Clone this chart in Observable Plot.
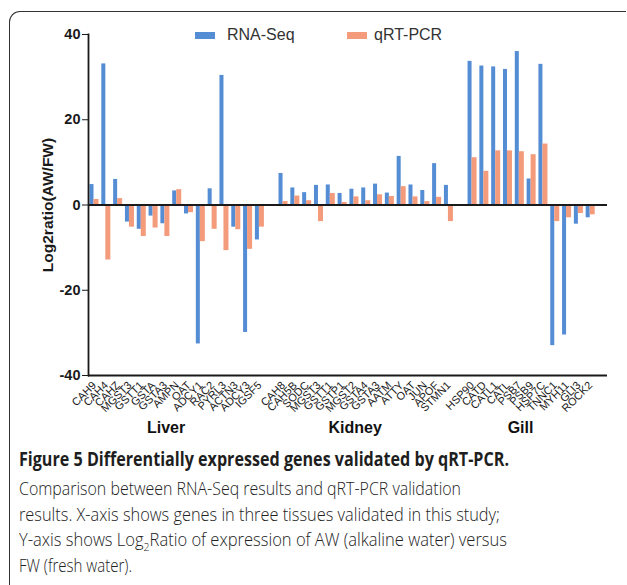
<!DOCTYPE html>
<html><head><meta charset="utf-8">
<script src="https://cdn.jsdelivr.net/npm/d3@7"></script>
<script src="https://cdn.jsdelivr.net/npm/@observablehq/plot@0.6"></script>
<style>
body{margin:0;background:#fff;}
#wrap{position:relative;width:627px;height:585px;overflow:hidden;background:#fff;}
#border{position:absolute;left:9px;top:11px;width:616px;height:620px;border-left:1.6px solid #333;border-top:1.6px solid #333;border-top-left-radius:11px;}
#chart{position:absolute;left:0;top:0;}
#chart g[aria-label="y-axis tick label"]{font-weight:bold;font-size:14.5px;}
#chart g[aria-label="y-axis label"]{font-weight:bold;font-size:15.5px;}
#chart g[aria-label="x-axis tick label"]{font-size:11px;}
.sw{position:absolute;width:20px;height:7px;top:32px;}
.lt{position:absolute;top:27px;font:16px/16px 'Liberation Sans',Arial,sans-serif;color:#333;white-space:nowrap;}
.cap{position:absolute;left:19px;white-space:nowrap;font-family:'Open Sans',sans-serif;transform-origin:0 0;}
.cap span{display:inline-block;}
#t1{top:450px;font-size:19px;line-height:19px;font-weight:bold;color:#1e1e1e;}
.body{font-size:17.5px;line-height:17.5px;color:#222;font-weight:300;}
</style></head><body>
<div id="wrap">
  <div id="border"></div>
  <div id="chart"></div>
  <div class="sw" id="sw1" style="left:195px"></div><div class="lt" id="lt1" style="left:227px"></div>
  <div class="sw" id="sw2" style="left:347px"></div><div class="lt" id="lt2" style="left:374px"></div>
  <div class="cap" id="t1" data-w="490"><span>Figure 5 Differentially expressed genes validated by qRT-PCR.</span></div>
  <div class="cap body" style="top:480px" data-w="442"><span>Comparison between RNA-Seq results and qRT-PCR validation</span></div>
  <div class="cap body" style="top:506px" data-w="481"><span>results. X-axis shows genes in three tissues validated in this study;</span></div>
  <div class="cap body" style="top:531px" data-w="488"><span>Y-axis shows Log<sub style="font-size:11px;line-height:0">2</sub>Ratio of expression of AW (alkaline water) versus</span></div>
  <div class="cap body" style="top:557px" data-w="113"><span>FW (fresh water).</span></div>
</div>
<script>
const seriesNames = ["RNA-Seq", "qRT-PCR"];
const seriesColors = ["#558dd5", "#f39b7b"];

const liverGenes = ["CAH9","CAH4","CAHZ","MGST3","GSTT1","GSTA","GSTA3","AMPN","OAT","ADCY1","RAC2","PYRL3","ACTN3","ADCY3","IGSF5"];
const liverRNA  = [4.8, 33.1, 6.0, -4.0, -5.7, -2.6, -4.4, 3.3, -2.1, -32.6, 3.8, 30.4, -5.2, -29.9, -8.2];
const liverQPCR = [1.3, -12.9, 1.5, -5.2, -7.4, -5.4, -7.4, 3.6, -1.8, -8.6, -5.7, -10.7, -5.8, -10.4, -5.2];

const kidneyGenes = ["CAH8","CAH5B","SODC","MGST3","GSTT1","GSTP1","MGST2","GSTA4","GSTA3","AATM","ATTY","OAT","JUN","APOF","STMN1"];
const kidneyRNA  = [7.4, 4.0, 2.9, 4.6, 4.7, 2.7, 3.7, 4.0, 4.9, 2.8, 11.4, 4.7, 3.4, 9.7, 4.6];
const kidneyQPCR = [0.8, 2.1, 1.0, -3.9, 2.7, 0.6, 1.9, 1.0, 2.4, 2.0, 4.3, 1.9, 0.8, 1.8, -3.9];

const gillGenes = ["HSP90","CATD","CATL1","CATL","PSB7","PSB9","HSP7C","TNNC1","MYH11","GLI3","ROCK2"];
const gillRNA  = [33.7, 32.6, 32.4, 31.8, 36.0, 6.1, 33.0, -33.0, -30.5, -4.5, -3.0];
const gillQPCR = [11.1, 7.9, 12.7, 12.7, 12.5, 11.8, 14.3, -3.9, -3.0, -2.0, -2.3];

const tissues = ["Liver", "Kidney", "Gill"];
const yTicks = [-40, -20, 0, 20, 40];

const groups = [
  [tissues[0], liverGenes, liverRNA, liverQPCR],
  [tissues[1], kidneyGenes, kidneyRNA, kidneyQPCR],
  [tissues[2], gillGenes, gillRNA, gillQPCR]
];
const rows = [];
const domain = [];
const tissueLabels = [];
groups.forEach(([t, genes, rna, q], gi) => {
  if (gi > 0) domain.push("gap" + gi);
  genes.forEach((g, i) => {
    const key = t + "|" + g;
    domain.push(key);
    rows.push({key, tissue: t, gene: g, rna: rna[i], qpcr: q[i]});
  });
  tissueLabels.push({name: t, key: t + "|" + genes[Math.floor(genes.length / 2)]});
});

const chart = Plot.plot({
  width: 627, height: 445,
  marginLeft: 88, marginRight: 20, marginTop: 34, marginBottom: 70,
  style: {fontFamily: "'Liberation Sans', Arial, sans-serif", color: "#1a1a1a", background: "transparent", overflow: "visible"},
  x: {type: "band", domain, range: [88, 596], padding: 0, tickSize: 0, tickPadding: 8, tickRotate: -45,
      tickFormat: d => d.startsWith("gap") ? "" : d.split("|")[1], label: null},
  y: {domain: [-40, 40], ticks: yTicks, tickSize: 6, tickPadding: 2, tickFormat: d => String(d),
      label: "Log2ratio(AW/FW)", labelArrow: "none", labelAnchor: "center", labelOffset: 47},
  marks: [
    Plot.barY(rows, {x: "key", y: "rna", fill: seriesColors[0], insetLeft: 1.5, insetRight: 6.3}),
    Plot.barY(rows, {x: "key", y: "qpcr", fill: seriesColors[1], insetLeft: 5.5, insetRight: 1.3}),
    Plot.ruleY([0, -40], {stroke: "#1a1a1a", strokeWidth: 1.8}),
    Plot.frame({anchor: "left", stroke: "#1a1a1a", strokeWidth: 1.8}),
    Plot.text(tissueLabels, {x: "key", frameAnchor: "bottom", dy: 57, dx: -11, text: "name",
      fontSize: 16, fontWeight: "bold", fill: "#111"})
  ]
});
document.getElementById("chart").appendChild(chart);

document.getElementById("sw1").style.background = seriesColors[0];
document.getElementById("sw2").style.background = seriesColors[1];
document.getElementById("lt1").textContent = seriesNames[0];
document.getElementById("lt2").textContent = seriesNames[1];

document.querySelectorAll(".cap").forEach(el => {
  const span = el.querySelector("span");
  const w = span.getBoundingClientRect().width;
  const target = +el.dataset.w;
  el.style.transform = `scaleX(${target / w})`;
});
</script>
</body></html>
